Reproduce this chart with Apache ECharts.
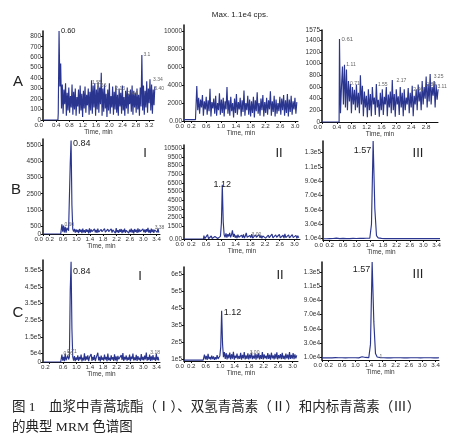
<!DOCTYPE html>
<html lang="zh">
<head>
<meta charset="UTF-8">
<title>MRM 色谱图</title>
<script src="https://cdn.jsdelivr.net/npm/echarts@6/dist/echarts.min.js"></script>
<style>html,body{margin:0;padding:0;background:#fff}</style>
</head>
<body>
<div id="main" style="width:465px;height:446px;"></div>
<script type="text/javascript">
// ---- A 行：空白血浆 ----
var a1Lead = [[0, 0], [0.45, 0]];
var a1Start = 0.46, a1Step = 0.0245;
var a1Vals = [
  60, 850, 320, 540, 110, 340, 60, 290, 150, 350,
  40, 260, 90, 310, 70, 230, 120, 340, 50, 270,
  100, 300, 40, 220, 130, 290, 60, 330, 90, 250,
  30, 280, 110, 320, 70, 240, 140, 300, 50, 270,
  90, 380, 60, 330, 120, 350, 40, 290, 100, 360,
  70, 310, 150, 450, 40, 300, 80, 340, 110, 250,
  30, 290, 90, 350, 60, 230, 120, 320, 50, 270,
  100, 330, 70, 240, 40, 300, 130, 260, 60, 330,
  90, 220, 40, 280, 110, 310, 60, 250, 150, 290,
  80, 330, 50, 280, 120, 260, 70, 300, 100, 240,
  40, 310, 130, 620, 90, 330, 50, 280, 120, 370,
  70, 300, 160, 390, 90, 340, 60, 290, 140, 320
];
var a1XTicks = [0, 0.4, 0.8, 1.2, 1.6, 2.0, 2.4, 2.8, 3.2];
var a1YTicks = [0, 100, 200, 300, 400, 500, 600, 700, 800];
var a1Marks = [[0.48, 850, '0.60', 7.5, 'right'], [1.42, 360, '1.55', 5, 'right'], [1.56, 330, '1.66', 5, 'right'],
  [2.12, 300, '2.13', 5, 'right'], [2.5, 250, '2.44', 5, 'right'], [2.97, 620, '3.1', 5, 'right'],
  [3.26, 390, '3.34', 5, 'right'], [3.3, 300, '3.40', 5, 'right']];

var a2Lead = [[0, 150], [0.31, 150]];
var a2Start = 0.32, a2Step = 0.0255;
var a2Vals = [
  300, 3900, 1200, 2600, 800, 2400, 1500, 2900, 600, 2200,
  1300, 2700, 700, 2300, 1100, 3600, 500, 2100, 1400, 2500,
  800, 2800, 600, 2000, 1200, 3100, 700, 2400, 900, 2600,
  500, 2200, 1300, 3800, 800, 2300, 600, 2700, 1100, 2000,
  400, 2500, 900, 3000, 700, 2100, 1300, 2600, 500, 2300,
  1000, 3400, 600, 2000, 1200, 2800, 700, 2400, 500, 2200,
  900, 2700, 400, 2300, 1100, 3200, 800, 2000, 600, 2500,
  1200, 2900, 500, 2100, 900, 2600, 700, 2300, 1300, 3300,
  600, 2200, 1000, 2800, 500, 2400, 800, 2000, 1100, 2700,
  700, 2500, 1200, 2900, 600, 2300, 900, 3000, 500, 2400,
  1000, 2800, 700, 2200, 1300, 2600, 800, 2100
];
var a2XTicks = [0, 0.2, 0.6, 1.0, 1.4, 1.8, 2.2, 2.6, 3.0];
var a2YTicks = [0, 2000, 4000, 6000, 8000, 10000];
var a2YText = ['0.00', '2000', '4000', '6000', '8000', '10000'];

var a3Lead = [[0, 0], [0.46, 0]];
var a3Start = 0.47, a3Step = 0.0268;
var a3Vals = [
  1420, 150, 600, 950, 300, 980, 250, 900, 200, 700,
  350, 650, 150, 600, 300, 550, 200, 640, 250, 500,
  150, 800, 300, 620, 100, 520, 250, 450, 80, 560,
  200, 480, 100, 600, 300, 420, 120, 650, 250, 380,
  90, 500, 200, 560, 120, 430, 300, 600, 100, 470,
  250, 520, 150, 720, 200, 480, 90, 560, 300, 440,
  120, 600, 250, 500, 100, 560, 200, 420, 300, 580,
  150, 500, 250, 620, 100, 450, 300, 560, 200, 640,
  350, 520, 200, 700, 300, 600, 400, 780, 250, 650,
  350, 820, 300, 600, 450, 700, 250, 640, 380, 560
];
var a3XTicks = [0, 0.4, 0.8, 1.2, 1.6, 2.0, 2.4, 2.8];
var a3YTicks = [0, 200, 400, 600, 800, 1000, 1200, 1400, 1575];
var a3Marks = [[0.47, 1420, '0.61', 6, 'right'], [0.6, 980, '1.11', 5, 'right'], [0.7, 650, '0.71', 5, 'right'],
  [1.45, 640, '1.55', 5, 'right'], [1.95, 700, '2.17', 5, 'right'], [2.4, 560, '2.46', 5, 'right'],
  [2.75, 640, '2.84', 5, 'right'], [2.95, 780, '3.25', 5, 'right'], [3.05, 600, '3.11', 5, 'right']];

// ---- B 行：加标血浆 ----
var b1Lead = [[0, 0], [0.53, 0]];
var b1Start = 0.54, b1Step = 0.025;
var b1Vals = [
  20, 600, 150, 520, 100, 450, 80, 380, 300, 200,
  300, 4400, 5800, 1800, 300, 150, 320, 80, 280, 120,
  250, 60, 310, 140, 270, 50, 330, 100, 240, 70,
  300, 130, 260, 40, 350, 90, 280, 150, 220, 60,
  310, 100, 250, 70, 340, 120, 200, 50, 290, 140,
  260, 80, 330, 110, 230, 60, 300, 150, 270, 40,
  320, 90, 250, 130, 290, 60, 360, 100, 240, 70,
  280, 140, 310, 50, 260, 110, 330, 80, 230, 150,
  300, 60, 270, 120, 340, 90, 250, 40, 310, 130,
  260, 70, 350, 100, 280, 150, 240, 60, 320, 110,
  270, 80, 300, 140, 380, 90, 250, 60, 330, 120,
  290, 70, 260, 150, 310, 100, 350, 80
];
var b1XTicks = [0, 0.2, 0.6, 1.0, 1.4, 1.8, 2.2, 2.6, 3.0, 3.4];
var b1YTicks = [0, 500, 1500, 2500, 3500, 4500, 5500];
var b1Marks = [[0.84, 5600, '0.84', 9, 'right'], [0.58, 600, '0.60', 5, 'right'], [3.28, 380, '3.38', 5, 'right']];

var b2Lead = [[0, 0], [0.53, 0]];
var b2Start = 0.54, b2Step = 0.025;
var b2Vals = [
  400, 50, 250, 100, 500, 30, 200, 80, 350, 60,
  150, 40, 280, 90, 200, 50, 120, 250, 300, 1800,
  6300, 2000, 500, 200, 650, 150, 550, 300, 700, 200,
  480, 1000, 250, 600, 150, 420, 90, 500, 200, 380,
  60, 450, 150, 520, 100, 350, 700, 200, 430, 80,
  400, 150, 550, 100, 320, 60, 480, 200, 350, 90,
  500, 130, 400, 70, 360, 180, 520, 100, 300, 60,
  450, 150, 380, 90, 560, 120, 330, 70, 480, 200,
  360, 80, 520, 140, 300, 60, 430, 110, 600, 150,
  380, 90, 470, 130, 320, 70, 500, 160, 350, 100,
  420, 80, 380, 150
];
var b2XTicks = [0, 0.2, 0.6, 1.0, 1.4, 1.8, 2.2, 2.6, 3.0];
var b2YTicks = [0, 500, 1500, 2500, 3500, 4500, 5500, 6500, 7500, 8500, 9500, 10500];
var b2YText = ['0.00', '500', '1500', '2500', '3500', '4500', '5500', '6500', '7500', '8500', '9500', '10500'];
var b2Marks = [[1.04, 6300, '1.12', 9, 'inside'], [1.78, 500, '3.00', 5, 'right']];

var b3Start = 0, b3Step = 0.05;
var b3Vals = [
  9800, 9900, 9700, 9900, 10000, 9800, 10100, 9900, 10600, 9800,
  10000, 9900, 10200, 9800, 10000, 10100, 9900, 10000, 10200, 9900,
  10100, 10000, 10300, 10100, 10200, 12500, 10400, 10200, 10500, 30000,
  146000, 52000, 14000, 11000, 10400, 10200, 10100, 10000, 10200, 10000,
  10100, 9900, 10000, 10100, 9900, 10000, 10200, 9900, 10000, 10100,
  9900, 10000, 10100, 9900, 10000, 10100, 9900, 10000, 10000, 9900,
  10100, 10000, 9900, 10100, 10000, 9900, 10000, 10100, 10000, 9900,
  10000
];
var b3XTicks = [0, 0.2, 0.6, 1.0, 1.4, 1.8, 2.2, 2.6, 3.0, 3.4];
var b3YTicks = [10000, 30000, 50000, 70000, 90000, 110000, 130000];
var b3YText = ['1.0e4', '3.0e4', '5.0e4', '7.0e4', '9.0e4', '1.1e5', '1.3e5'];
var b3Marks = [[1.5, 133000, '1.57', 9, 'left']];

// ---- C 行：给药后血浆 ----
var c1Lead = [[0, 0], [0.53, 0]];
var c1Start = 0.54, c1Step = 0.025;
var c1Vals = [
  2000, 45000, 8000, 30000, 5000, 50000, 10000, 25000, 40000, 15000,
  30000, 430000, 600000, 200000, 30000, 8000, 35000, 5000, 28000, 12000,
  40000, 6000, 30000, 15000, 45000, 4000, 26000, 10000, 52000, 8000,
  33000, 14000, 40000, 5000, 28000, 18000, 48000, 7000, 30000, 12000,
  42000, 6000, 25000, 16000, 55000, 9000, 31000, 4000, 38000, 13000,
  27000, 8000, 44000, 15000, 30000, 5000, 50000, 11000, 26000, 7000,
  40000, 14000, 29000, 6000, 46000, 10000, 33000, 4000, 37000, 16000,
  24000, 9000, 41000, 12000, 53000, 6000, 30000, 15000, 39000, 8000,
  28000, 13000, 45000, 5000, 32000, 17000, 50000, 9000, 27000, 11000,
  43000, 7000, 35000, 14000, 26000, 6000, 48000, 12000, 31000, 9000,
  38000, 15000, 56000, 8000, 29000, 12000, 44000, 6000, 34000, 10000,
  41000, 13000, 27000, 7000, 49000, 11000, 30000, 9000
];
var c1XTicks = [0.2, 0.6, 1.0, 1.4, 1.8, 2.2, 2.6, 3.0, 3.4];
var c1YTicks = [0, 50000, 150000, 250000, 350000, 450000, 550000];
var c1YText = ['0', '5e4', '1.5e5', '2.5e5', '3.5e5', '4.5e5', '5.5e5'];
var c1Marks = [[0.84, 540000, '0.84', 9, 'right'], [0.55, 50000, '0.56', 5, 'right'], [0.66, 62000, '0.71', 5, 'right'],
  [3.15, 55000, '3.18', 5, 'right']];

var c2Lead = [[0, 93000], [0.53, 93000]];
var c2Start = 0.54, c2Step = 0.025;
var c2Vals = [
  95000, 125000, 98000, 118000, 94000, 130000, 100000, 112000, 96000, 120000,
  99000, 115000, 95000, 110000, 97000, 122000, 100000, 108000, 118000, 170000,
  385000, 190000, 110000, 140000, 100000, 135000, 98000, 125000, 104000, 138000,
  97000, 128000, 102000, 142000, 96000, 120000, 105000, 132000, 99000, 118000,
  101000, 136000, 96000, 124000, 103000, 140000, 98000, 121000, 100000, 133000,
  97000, 126000, 104000, 138000, 99000, 119000, 102000, 131000, 96000, 128000,
  103000, 135000, 98000, 122000, 100000, 141000, 97000, 127000, 104000, 120000,
  99000, 134000, 101000, 125000, 96000, 137000, 103000, 121000, 98000, 130000,
  102000, 139000, 97000, 123000, 104000, 128000, 99000, 136000, 101000, 119000,
  98000, 132000, 103000, 126000, 97000, 140000, 100000, 124000, 102000, 135000,
  99000, 127000, 104000, 121000
];
var c2XTicks = [0, 0.2, 0.6, 1.0, 1.4, 1.8, 2.2, 2.6, 3.0];
var c2YTicks = [100000, 200000, 300000, 400000, 500000, 600000];
var c2YText = ['1e5', '2e5', '3e5', '4e5', '5e5', '6e5'];
var c2Marks = [[1.04, 375000, '1.12', 9, 'right'], [1.76, 140000, '3.00', 5, 'right']];

var c3Start = 0, c3Step = 0.05;
var c3Vals = [
  9000, 9100, 9000, 8900, 9100, 9200, 9000, 9100, 9300, 9000,
  9100, 9000, 9200, 9100, 9000, 9100, 9200, 9000, 9100, 9000,
  9200, 9100, 9000, 9300, 10500, 12000, 9600, 9300, 9400, 28000,
  144000, 60000, 15000, 10200, 9500, 9300, 9200, 9100, 9200, 9000,
  9100, 9000, 9100, 9200, 9000, 9100, 9000, 9100, 9200, 9000,
  9100, 9000, 9200, 9100, 9000, 9100, 9000, 9200, 9100, 9000,
  9100, 9200, 9000, 9100, 9000, 9100, 9200, 9000, 9100, 9000,
  9100
];
var c3XTicks = [0, 0.2, 0.6, 1.0, 1.4, 1.8, 2.2, 2.6, 3.0, 3.4];
var c3YTicks = [10000, 30000, 50000, 70000, 90000, 110000, 130000];
var c3YText = ['1.0e4', '3.0e4', '5.0e4', '7.0e4', '9.0e4', '1.1e5', '1.3e5'];
var c3Marks = [[1.5, 133000, '1.57', 9, 'left'], [1.66, 11000, '1', 5, 'right']];

var lineColor = '#2a3590';
var txtFont = 'Liberation Sans';

function series(lead, start, step, vals) {
  var out = lead.slice();
  for (var i = 0; i < vals.length; i++) out.push([start + i * step, vals[i]]);
  return out;
}

var panels = [
  {g: [43, 31, 111, 89], x: [0, 3.35], y: [0, 850], xt: a1XTicks, yt: a1YTicks, ytx: null, d: series(a1Lead, a1Start, a1Step, a1Vals), m: a1Marks},
  {g: [184, 25, 114, 96], x: [0, 3.08], y: [0, 10700], xt: a2XTicks, yt: a2YTicks, ytx: a2YText, d: series(a2Lead, a2Start, a2Step, a2Vals), m: []},
  {g: [322, 30, 116, 92], x: [0, 3.12], y: [0, 1575], xt: a3XTicks, yt: a3YTicks, ytx: null, d: series(a3Lead, a3Start, a3Step, a3Vals), m: a3Marks},
  {g: [43, 139, 117, 95], x: [0, 3.5], y: [0, 5900], xt: b1XTicks, yt: b1YTicks, ytx: null, d: series(b1Lead, b1Start, b1Step, b1Vals), m: b1Marks},
  {g: [184, 145, 116, 94], x: [0, 3.15], y: [0, 10900], xt: b2XTicks, yt: b2YTicks, ytx: b2YText, d: series(b2Lead, b2Start, b2Step, b2Vals), m: b2Marks},
  {g: [323, 141, 117, 99], x: [0, 3.5], y: [8000, 146000], xt: b3XTicks, yt: b3YTicks, ytx: b3YText, d: series([], b3Start, b3Step, b3Vals), m: b3Marks},
  {g: [43, 260, 117, 102], x: [0, 3.5], y: [0, 610000], xt: c1XTicks, yt: c1YTicks, ytx: c1YText, d: series(c1Lead, c1Start, c1Step, c1Vals), m: c1Marks},
  {g: [184, 267, 114, 94], x: [0, 3.15], y: [88000, 643000], xt: c2XTicks, yt: c2YTicks, ytx: c2YText, d: series(c2Lead, c2Start, c2Step, c2Vals), m: c2Marks},
  {g: [322, 262, 117, 98], x: [0, 3.5], y: [6000, 144000], xt: c3XTicks, yt: c3YTicks, ytx: c3YText, d: series([], c3Start, c3Step, c3Vals), m: c3Marks}
];

var grids = [], xAxes = [], yAxes = [], seriesList = [];
panels.forEach(function (p, i) {
  grids.push({left: p.g[0], top: p.g[1], width: p.g[2], height: p.g[3], containLabel: false});
  xAxes.push({
    type: 'value', gridIndex: i, min: p.x[0], max: p.x[1],
    name: 'Time, min', nameLocation: 'middle', nameGap: 8,
    nameTextStyle: {fontSize: 6.5, color: '#333', fontFamily: txtFont},
    axisLine: {lineStyle: {color: '#111', width: 1}},
    axisTick: {show: true, length: 2, customValues: p.xt, lineStyle: {color: '#111'}},
    axisLabel: {fontSize: 6.2, color: '#333', margin: 2, fontFamily: txtFont, customValues: p.xt,
      hideOverlap: false, showMinLabel: true, showMaxLabel: true, alignMinLabel: 'right',
      formatter: function (v) { return v.toFixed(1); }},
    splitLine: {show: false}
  });
  yAxes.push({
    type: 'value', gridIndex: i, min: p.y[0], max: p.y[1],
    axisLine: {show: true, lineStyle: {color: '#111', width: 1.5}},
    axisTick: {show: true, length: 2, customValues: p.yt, lineStyle: {color: '#111'}},
    axisLabel: {fontSize: 6.5, color: '#333', margin: 2, fontFamily: txtFont, customValues: p.yt,
      hideOverlap: false, showMinLabel: true, showMaxLabel: true,
      formatter: function (v) {
        var k = p.yt.indexOf(v);
        return p.ytx && k >= 0 ? p.ytx[k] : String(v);
      }},
    splitLine: {show: false}
  });
  seriesList.push({
    type: 'line', xAxisIndex: i, yAxisIndex: i, data: p.d,
    showSymbol: false, symbol: 'none', animation: false,
    lineStyle: {color: lineColor, width: 1.15},
    markPoint: {
      symbol: 'circle', symbolSize: 0, animation: false,
      data: p.m.map(function (mk) {
        return {coord: [mk[0], mk[1]], value: mk[2],
          label: {show: true, formatter: '{c}', position: mk[4], distance: 2,
            fontSize: mk[3], color: mk[3] > 6 ? '#222' : '#666', fontFamily: txtFont}};
      })
    }
  });
});

function t(text, x, y, size, extra) {
  var st = {text: text, fontSize: size, fontFamily: txtFont, fill: '#222', align: 'center', verticalAlign: 'middle'};
  if (extra) for (var k in extra) st[k] = extra[k];
  return {type: 'text', x: x, y: y, style: st};
}

var capFont = '"Liberation Serif", "Noto Sans CJK SC"';
var graphics = [
  t('Max. 1.1e4 cps.', 240, 15, 8),
  t('A', 18, 82, 15), t('B', 16, 190, 15), t('C', 18, 313, 15),
  t('I', 145, 153, 13), t('II', 279, 153, 13), t('III', 418, 153, 13),
  t('I', 140, 276, 13), t('II', 280, 275, 13), t('III', 418, 274, 13),
  t('图 1　血浆中青蒿琥酯（Ⅰ）、双氢青蒿素（Ⅱ）和内标青蒿素（Ⅲ）', 12, 407, 13.5, {align: 'left', fontFamily: capFont}),
  t('的典型 MRM 色谱图', 12, 427, 13.5, {align: 'left', fontFamily: capFont})
];

var myChart = echarts.init(document.getElementById('main'), null, {renderer: 'canvas'});
myChart.setOption({
  animation: false,
  backgroundColor: '#fff',
  grid: grids,
  xAxis: xAxes,
  yAxis: yAxes,
  series: seriesList,
  graphic: graphics
});
</script>
</body>
</html>
